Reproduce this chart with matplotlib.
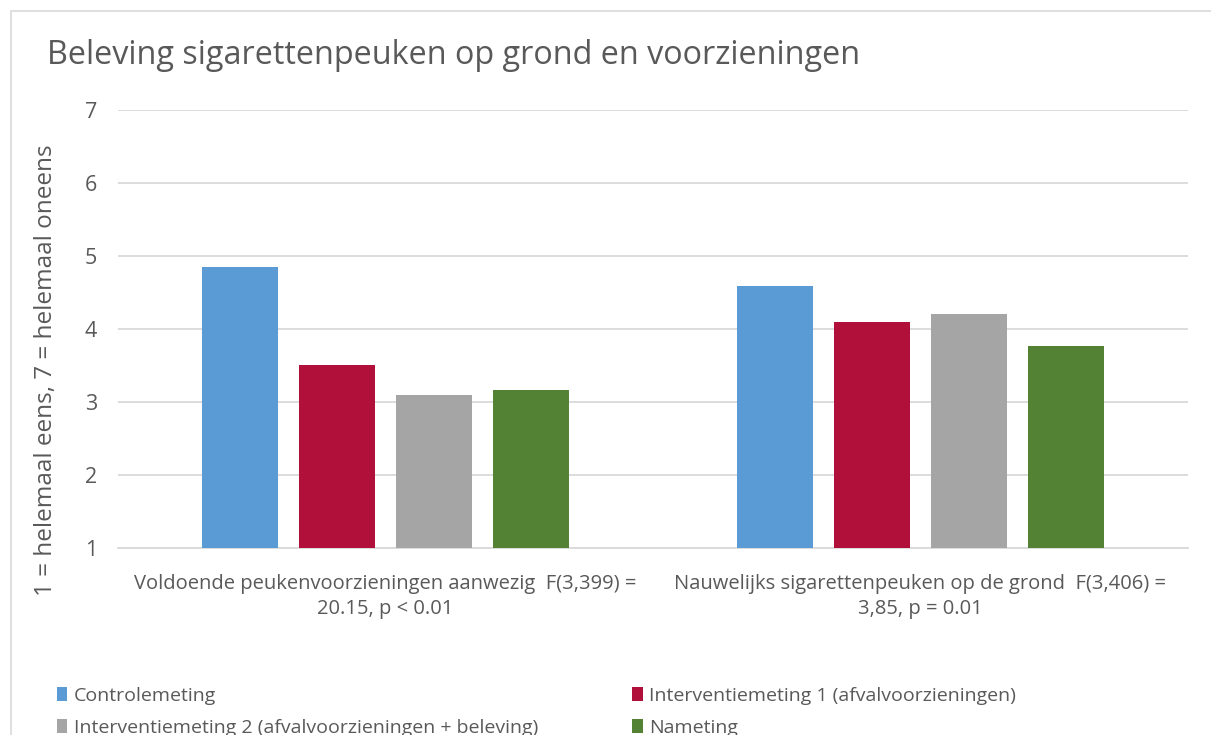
import matplotlib.pyplot as plt
from matplotlib.patches import Rectangle
import numpy as np

plt.rcParams['font.family'] = ['Open Sans', 'DejaVu Sans']

categories = ['Voldoende peukenvoorzieningen aanwezig  F(3,399) =\n20.15, p < 0.01',
              'Nauwelijks sigarettenpeuken op de grond  F(3,406) =\n3,85, p = 0.01']
series = ['Controlemeting',
          'Interventiemeting 1 (afvalvoorzieningen)',
          'Interventiemeting 2 (afvalvoorzieningen + beleving)',
          'Nameting']
values = [
    [4.85, 4.59],
    [3.51, 4.09],
    [3.10, 4.20],
    [3.16, 3.77],
]
colors = ['#5b9bd5', '#b0103a', '#a5a5a5', '#548235']
txt = '#595959'

fig = plt.figure(figsize=(12.11, 7.35), dpi=100)
# chart-area border
fig.patches.append(Rectangle((11 / 1211, -0.01), 1.02, 1 - 11 / 735 + 0.01,
                             transform=fig.transFigure, fill=False,
                             edgecolor='#d9d9d9', linewidth=1.2))

ax = fig.add_axes([118 / 1211, 1 - 548 / 735, (1188 - 118) / 1211, (548 - 110) / 735])

x = np.arange(len(categories))
width = 0.142
step = 0.181
offsets = (np.arange(len(series)) - 1.5) * step
for i, s in enumerate(series):
    ax.bar(x + offsets[i], np.array(values[i]) - 1, width, bottom=1,
           color=colors[i], label=s, zorder=3)

ax.set_xlim(-0.5, 1.5)
ax.set_ylim(1, 7)
ax.set_yticks(range(1, 8))
ax.set_xticks(x)
ax.set_xticklabels(categories, fontsize=14.5, color=txt, linespacing=1.37)
ax.tick_params(axis='y', labelsize=15.5, colors=txt, length=0, pad=15)
ax.tick_params(axis='x', length=0, pad=18.5)
ax.grid(axis='y', color='#d9d9d9', linewidth=1.3, zorder=0)
for sp in ['top', 'right', 'left']:
    ax.spines[sp].set_visible(False)
ax.spines['bottom'].set_color('#d9d9d9')
ax.spines['bottom'].set_linewidth(1.3)

# y-axis title, placed in figure pixels
fig.text(46 / 1211, 1 - 370 / 735, '1 = helemaal eens, 7 = helemaal oneens',
         fontsize=17.5, color=txt, rotation=90, ha='center', va='center')
fig.text(47 / 1211, 1 - 55 / 735, 'Beleving sigarettenpeuken op grond en voorzieningen',
         fontsize=23.3, color=txt, va='center', ha='left')

handles, labels = ax.get_legend_handles_labels()
# reorder so rows are (0,1) and (2,3) with ncol=2
order = [0, 2, 1, 3]
leg = fig.legend([handles[k] for k in order], [labels[k] for k in order],
                 loc='upper left', bbox_to_anchor=(47 / 1211, 1 - 677 / 735),
                 ncol=2, frameon=False, fontsize=14, labelcolor=txt,
                 handlelength=0.55, handleheight=0.75, handletextpad=0.35,
                 columnspacing=4.8, labelspacing=0.71, borderpad=0)

fig.savefig('out.png', dpi=100)
